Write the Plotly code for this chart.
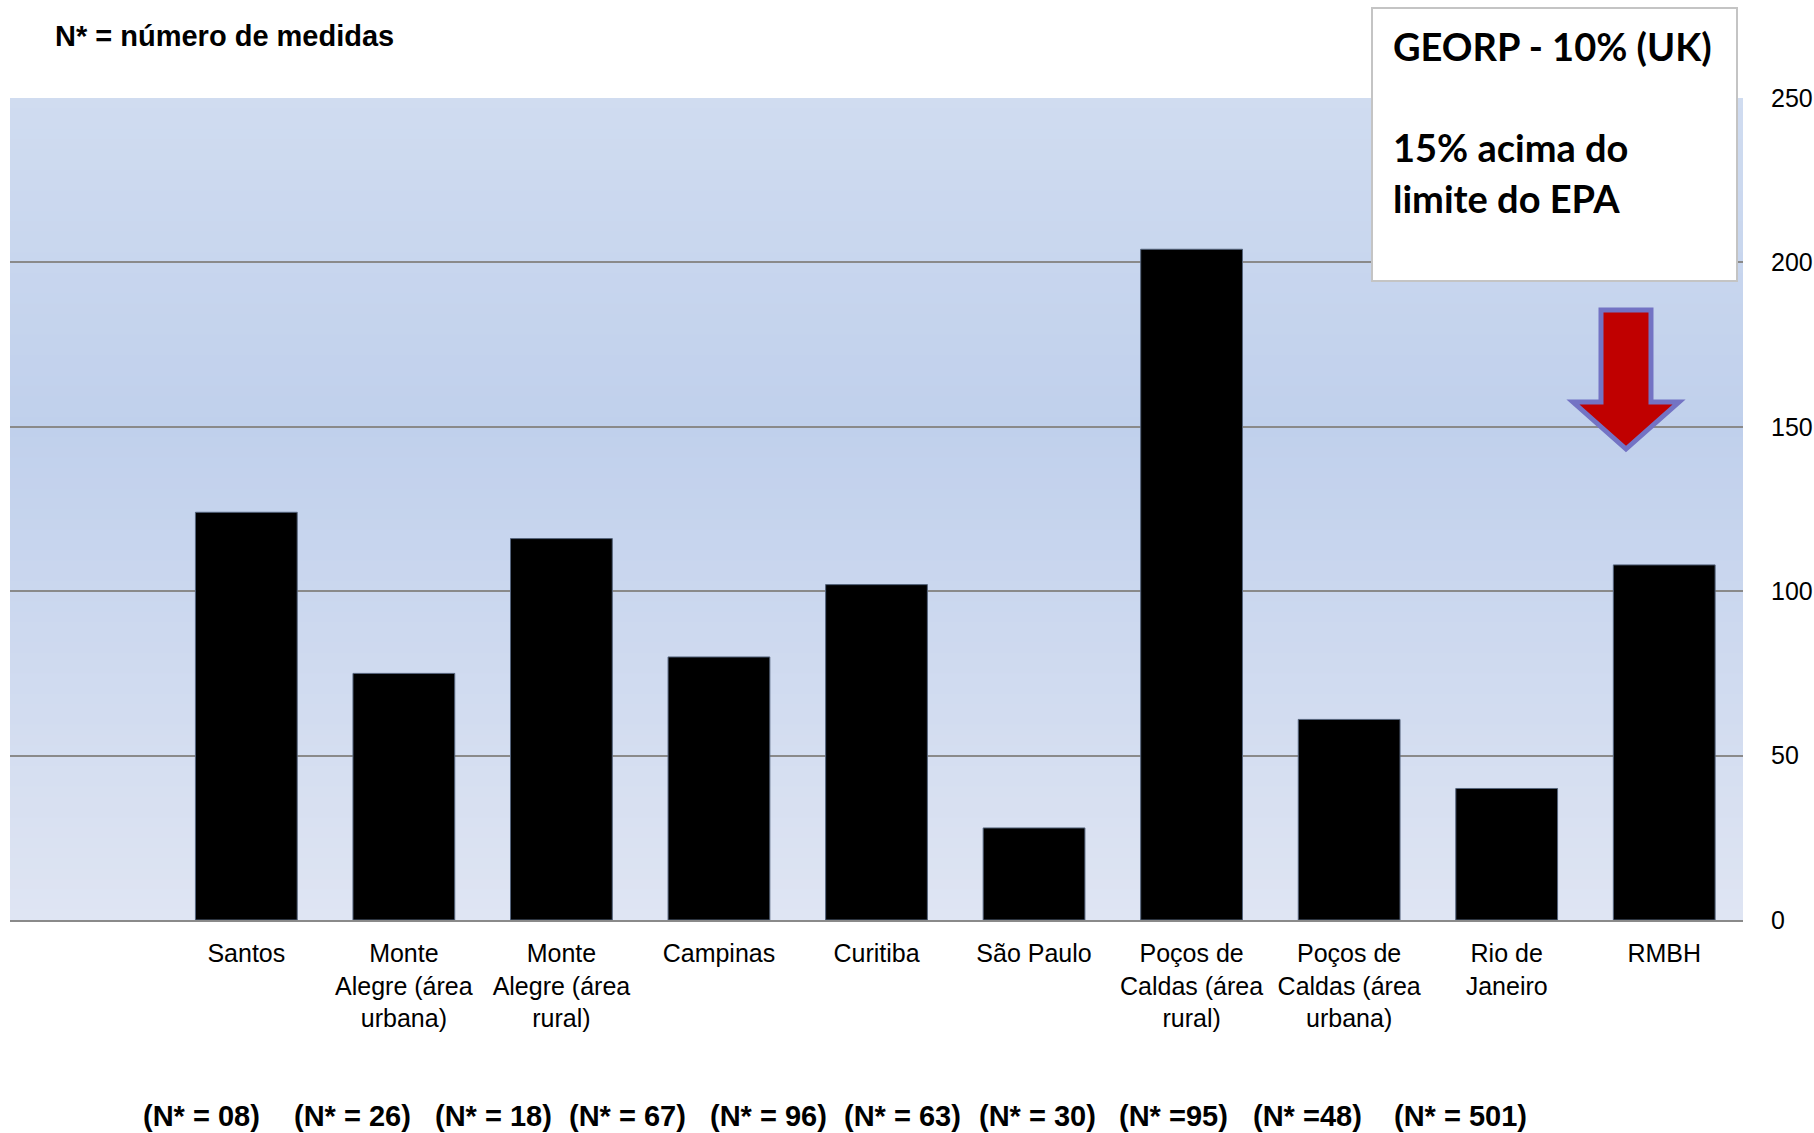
import plotly.graph_objects as go

# --- data -------------------------------------------------------------
cities = [
    "Santos",
    "Monte<br>Alegre (área<br>urbana)",
    "Monte<br>Alegre (área<br>rural)",
    "Campinas",
    "Curitiba",
    "São Paulo",
    "Poços de<br>Caldas (área<br>rural)",
    "Poços de<br>Caldas (área<br>urbana)",
    "Rio de<br>Janeiro",
    "RMBH",
]
values = [124, 75, 116, 80, 102, 28, 204, 61, 40, 108]
n_labels = ["(N* = 08)", "(N* = 26)", "(N* = 18)", "(N* = 67)", "(N* = 96)",
            "(N* = 63)", "(N* = 30)", "(N* =95)", "(N* =48)", "(N* = 501)"]
y_ticks = [0, 50, 100, 150, 200, 250]

title_text = "N* = número de medidas"
box_lines = ["GEORP - 10% (UK)", "15% acima do", "limite do EPA"]

# --- page geometry (pixels) -------------------------------------------
W_PX, H_PX = 1814, 1133
L, R, T, B = 10, 1743, 98, 920
PW, PH = R - L, B - T


def px(x):
    return (x - L) / PW


def py(y):
    return (B - y) / PH


fig = go.Figure()
fig.add_trace(go.Bar(
    x=list(range(len(cities))),
    y=values,
    marker=dict(color="#000000", line=dict(color="#55647c", width=1)),
    width=0.646,
    hoverinfo="skip",
))

shapes = []

# vertical gradient behind the plot area
stops = [(0.0, (223, 229, 243)), (0.6, (192, 208, 236)), (1.0, (208, 220, 240))]


def grad(t):
    for (t0, c0), (t1, c1) in zip(stops[:-1], stops[1:]):
        if t0 <= t <= t1:
            f = (t - t0) / (t1 - t0)
            return "rgb(%d,%d,%d)" % tuple(round(a + (b - a) * f) for a, b in zip(c0, c1))
    return "rgb(%d,%d,%d)" % stops[-1][1]


n_bands = 80
for i in range(n_bands):
    y0, y1 = i / n_bands, (i + 1) / n_bands
    shapes.append(dict(type="rect", xref="paper", yref="paper", x0=0, x1=1,
                       y0=y0, y1=min(1, y1 + 0.002), fillcolor=grad((i + 0.5) / n_bands),
                       line=dict(width=0), layer="below"))

# text box in the upper right
shapes.append(dict(type="rect", xref="paper", yref="paper",
                   x0=px(1372), x1=px(1737), y0=py(281), y1=py(8),
                   fillcolor="#ffffff", line=dict(color="#c4c4c4", width=2),
                   layer="above"))

# red arrow pointing down to the RMBH bar
pts = [(1601, 310), (1651, 310), (1651, 402), (1679, 402), (1626, 449),
       (1573, 402), (1601, 402)]
path = "M " + " L ".join("%.5f,%.5f" % (px(x), py(y)) for x, y in pts) + " Z"
shapes.append(dict(type="path", xref="paper", yref="paper", path=path,
                   fillcolor="#c00000", line=dict(color="#7373c4", width=5),
                   layer="above"))

annotations = []
annotations.append(dict(text="<b>" + title_text + "</b>", xref="paper", yref="paper",
                        x=px(53), y=py(36), xanchor="left", yanchor="middle",
                        showarrow=False,
                        font=dict(family="Liberation Sans, Arial", size=29, color="#000")))

for txt, yc in zip(box_lines, [46, 147, 198]):
    annotations.append(dict(text="<b>" + txt + "</b>", xref="paper", yref="paper",
                            x=px(1391), y=py(yc), xanchor="left", yanchor="middle",
                            showarrow=False,
                            font=dict(family="Lato, Carlito, sans-serif", size=38,
                                      color="#000")))

n_x = [201, 352, 493, 627, 768, 902, 1037, 1173, 1307, 1460]
for txt, xc in zip(n_labels, n_x):
    annotations.append(dict(text="<b>" + txt + "</b>", xref="paper", yref="paper",
                            x=px(xc), y=py(1116), xanchor="center", yanchor="middle",
                            showarrow=False,
                            font=dict(family="Liberation Sans, Arial", size=29,
                                      color="#000")))

fig.update_layout(
    width=W_PX, height=H_PX,
    margin=dict(l=L, r=W_PX - R, t=T, b=H_PX - B, pad=0, autoexpand=False),
    paper_bgcolor="#ffffff",
    plot_bgcolor="rgba(0,0,0,0)",
    showlegend=False,
    shapes=shapes,
    annotations=annotations,
    font=dict(family="Liberation Sans, Arial", size=25, color="#000"),
    xaxis=dict(
        range=[-1.5, len(cities) - 0.5],
        tickmode="array",
        tickvals=list(range(len(cities))),
        ticktext=cities,
        showgrid=False,
        zeroline=False,
        showline=True, linecolor="#8a8a8a", linewidth=2,
        ticks="outside", ticklen=10, tickcolor="rgba(0,0,0,0)",
        tickfont=dict(size=25),
        automargin=False,
        fixedrange=True,
    ),
    yaxis=dict(
        side="right",
        range=[0, 250],
        tickvals=y_ticks,
        showgrid=True, gridcolor="#8a8a8a", gridwidth=1.5,
        zeroline=False,
        showline=False,
        ticks="outside", ticklen=22, tickcolor="rgba(0,0,0,0)",
        tickfont=dict(size=25),
        automargin=False,
        fixedrange=True,
    ),
)

fig.write_html("out.html")
